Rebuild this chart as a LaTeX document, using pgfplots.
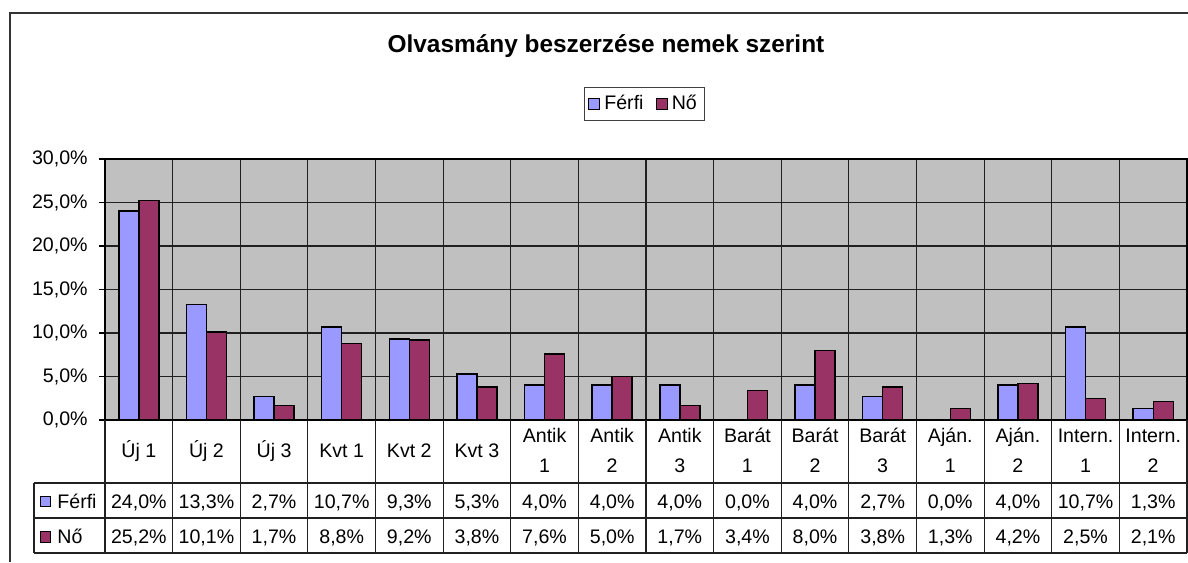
\documentclass[border=0pt]{standalone}
\usepackage{pgfplots}
\usepackage{pgfplotstable}
\pgfplotsset{compat=1.18}
\usepackage{fontspec}
\setmainfont{Liberation Sans}
\definecolor{ferfi}{HTML}{9999FF}
\definecolor{nocol}{HTML}{993366}
\definecolor{plotbg}{HTML}{C0C0C0}
\definecolor{gridc}{HTML}{202020}
\newcommand\fs{\fontsize{9.8}{11.8}\selectfont}
\pgfkeys{/pgf/number format/assume math mode=true}
\pgfplotstableread{
x f n
0 24.0 25.2
1 13.3 10.1
2 2.7 1.7
3 10.7 8.8
4 9.3 9.2
5 5.3 3.8
6 4.0 7.6
7 4.0 5.0
8 4.0 1.7
9 0.0 3.4
10 4.0 8.0
11 2.7 3.8
12 0.0 1.3
13 4.0 4.2
14 10.7 2.5
15 1.3 2.1
}\data
\begin{document}
\begin{tikzpicture}[x=0.5pt,y=0.5pt]
\path[use as bounding box] (0,0) rectangle (1188,562);
\begin{axis}[
  at={(52.5pt,71pt)}, anchor=south west, scale only axis,
  width=541pt, height=130.5pt,
  xmin=-0.5, xmax=15.5, ymin=0, ymax=30,
  axis background/.style={fill=plotbg},
  ybar=0pt, bar width=10pt,
  xtick={0,...,15},
  xticklabels={{Új 1},{Új 2},{Új 3},{Kvt 1},{Kvt 2},{Kvt 3},{Antik\\1},{Antik\\2},{Antik\\3},{Barát\\1},{Barát\\2},{Barát\\3},{Aján.\\1},{Aján.\\2},{Intern.\\1},{Intern.\\2}},
  major x tick style={draw=none},
  minor xtick={-0.5,0.5,...,15.5},
  xminorgrids, minor x grid style={gridc, line width=0.6pt}, minor x tick style={draw=none},
  ytick={0,5,...,30}, ymajorgrids, major y grid style={gridc, line width=0.6pt},
  y tick style={black, line width=0.6pt}, tick align=outside, major tick length=3pt,
  yticklabel={\pgfmathprintnumber[fixed,fixed zerofill,precision=1,use comma]{\tick}\%},
  tick label style={font=\fs},
  yticklabel style={anchor=east, inner sep=0pt, xshift=-5.5pt},
  xticklabel style={align=center, anchor=center, inner sep=0pt, yshift=-12.3pt, font=\fontsize{9.8}{15}\selectfont},
  axis line style={black, line width=0.6pt},
  legend columns=2,
  legend style={at={(0.4986,1.2107)}, anchor=center, draw=black!75, line width=0.5pt, font=\fs, inner xsep=2pt, inner ysep=2pt, /tikz/every even column/.append style={column sep=4pt}},
  legend image code/.code={\draw[#1, line width=0.5pt] (0pt,-2.9pt) rectangle (5.6pt,2.7pt);},
  clip=false,
]
\addplot[fill=ferfi, draw=black, line width=0.7pt] table[x=x,y=f] {\data};
\addplot[fill=nocol, draw=black, line width=0.7pt] table[x=x,y=n] {\data};
\legend{Férfi, Nő}
\end{axis}
\begin{scope}[yshift=281pt, y=-0.5pt]
\draw[black!80, line width=1pt] (10,562) -- (10,13) -- (1188,13);
\node[font=\fontsize{12.2}{14}\selectfont\bfseries, inner sep=0pt] at (606,46) {Olvasmány beszerzése nemek szerint};
\foreach \i in {0,...,16} \draw[gridc, line width=0.6pt] ({105+\i*67.625},420) -- ({105+\i*67.625},553);
\draw[gridc, line width=0.6pt] (34,483) -- (1187,483) (34,518) -- (1187,518) (34,553) -- (1187,553) (34,483) -- (34,553);
\draw[black, line width=0.5pt, fill=ferfi] (40,497) rectangle (50,507);
\draw[black, line width=0.5pt, fill=nocol] (40,532) rectangle (50,542);
\node[font=\fs, anchor=base west, inner sep=0pt] at (57,508) {Férfi};
\node[font=\fs, anchor=base west, inner sep=0pt] at (57,543.5) {Nő};
\foreach \i in {0,...,15} {
  \pgfplotstablegetelem{\i}{f}\of\data \let\fv\pgfplotsretval
  \pgfplotstablegetelem{\i}{n}\of\data \let\nv\pgfplotsretval
  \node[font=\fs, anchor=base, inner sep=0pt] at ({105+(\i+0.5)*67.625},508) {\pgfmathprintnumber[fixed,fixed zerofill,precision=1,use comma]{\fv}\%};
  \node[font=\fs, anchor=base, inner sep=0pt] at ({105+(\i+0.5)*67.625},543.5) {\pgfmathprintnumber[fixed,fixed zerofill,precision=1,use comma]{\nv}\%};
}
\end{scope}
\end{tikzpicture}
\end{document}
